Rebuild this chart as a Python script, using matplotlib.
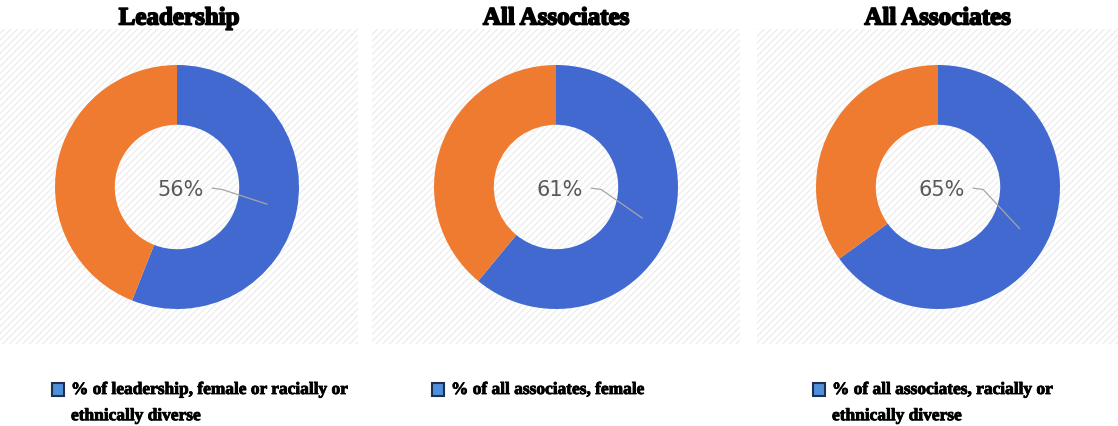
import numpy as np
import matplotlib.pyplot as plt
import matplotlib.patheffects as pe
from matplotlib.patches import Rectangle

titles = ["Leadership", "All Associates", "All Associates"]
shares = [56, 61, 65]
legend_labels = ["% of leadership, female or racially or\nethnically diverse",
                 "% of all associates, female",
                 "% of all associates, racially or\nethnically diverse"]

blue = "#4169CF"
orange = "#EE7B30"
W, H = 1118, 427

fig = plt.figure(figsize=(W / 100, H / 100), dpi=100)
plt.rcParams['hatch.linewidth'] = 0.8

# panel backgrounds (x0, x1 in pixels), donut centres, legend marker x
panels = [(0, 358), (372, 740), (757, 1118)]
centres = [177, 556, 938]
marks = [52, 432, 813]
cy, r = 188, 122

for i in range(3):
    x0, x1 = panels[i]
    bg = fig.add_axes([x0 / W, (H - 345) / H, (x1 - x0) / W, 315 / H])
    bg.add_patch(Rectangle((0, 0), 1, 1, transform=bg.transAxes, facecolor="white",
                           edgecolor="#EBEBEB", hatch="/////", linewidth=0))
    bg.set_axis_off()

    fig.text((x0 + x1) / 2 / W, 1 - 19 / H, titles[i], ha="center", va="center",
             family="Liberation Serif", weight="bold", fontsize=18,
             path_effects=[pe.withStroke(linewidth=1.2, foreground="black")])

    cx = centres[i]
    ax = fig.add_axes([(cx - r) / W, (H - cy - r) / H, 2 * r / W, 2 * r / H])
    v = shares[i]
    ax.pie([v, 100 - v], colors=[blue, orange], startangle=90, counterclock=False,
           radius=1, wedgeprops=dict(width=0.49, linewidth=0))
    ax.set_xlim(-1, 1)
    ax.set_ylim(-1, 1)

    # label with leader line to middle of blue slice
    mid = np.radians(90 - v / 100 * 180)
    px, py = 0.75 * np.cos(mid), 0.75 * np.sin(mid)
    tx, ty = 0.03, -0.02
    ax.text(tx, ty, f"{v}%", ha="center", va="center", color="#595959",
            family="DejaVu Sans", fontsize=15)
    ax.plot([tx + 0.26, tx + 0.34, px], [ty + 0.01, ty, py], color="#A6A6A6", lw=0.9)

    # legend: marker square and wrapped label
    mx = marks[i]
    fig.patches.append(Rectangle((mx / W, 1 - 397 / H), 12 / W, 13 / H,
                                 transform=fig.transFigure, facecolor="#4F8FDB",
                                 edgecolor="#1F2F4F", lw=1.5))
    fig.text((mx + 19) / W, 1 - 383 / H, legend_labels[i], ha="left", va="top",
             family="Liberation Serif", weight="bold", fontsize=12.5, linespacing=1.85,
             path_effects=[pe.withStroke(linewidth=0.6, foreground="black")])

fig.savefig("out.png", dpi=100, facecolor="white")
